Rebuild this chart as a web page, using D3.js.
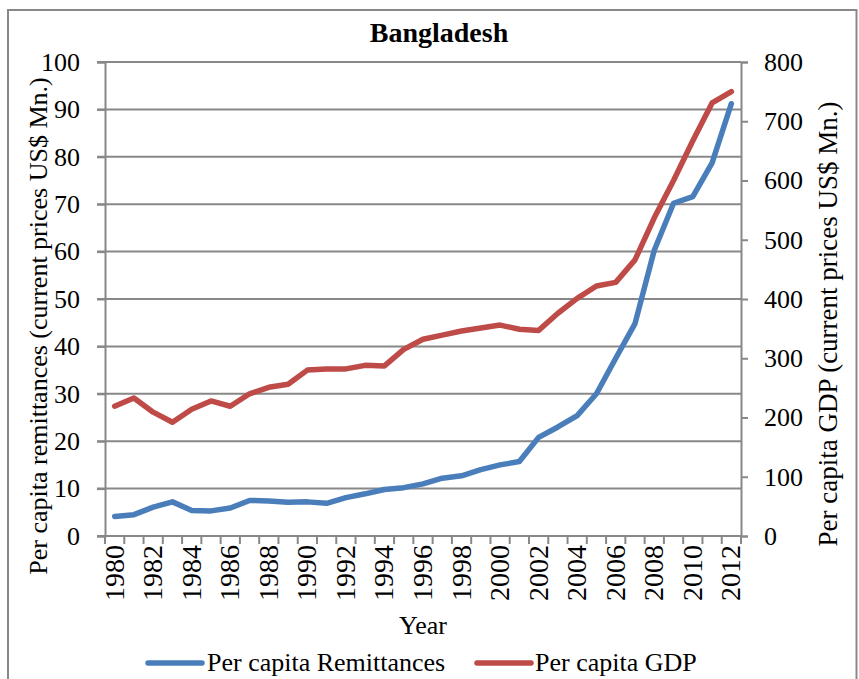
<!DOCTYPE html>
<html>
<head>
<meta charset="utf-8">
<script src="https://cdn.jsdelivr.net/npm/d3@7"></script>
<style>
  html, body { margin: 0; padding: 0; background: #fff; }
  svg { display: block; font-family: "Liberation Serif", "Times New Roman", serif; }
  svg text { font-family: "Liberation Serif", "Times New Roman", serif; }
</style>
</head>
<body>
<svg id="chart" width="859" height="679"></svg>
<script>
// Bangladesh: per capita remittances (left axis) and per capita GDP (right axis)
const years = d3.range(1980, 2013);
const remittances = [4.1, 4.5, 6.1, 7.2, 5.4, 5.3, 5.9, 7.5, 7.4, 7.1, 7.2, 6.9, 8.1, 8.9, 9.8, 10.2,
  11.0, 12.2, 12.7, 14.0, 15.0, 15.7, 20.8, 23.0, 25.4, 30.0, 37.5, 44.8, 60.3, 70.2, 71.6, 78.7, 91.2];
const gdp = [219, 233, 209, 192, 214, 228, 219, 240, 251, 256, 280, 282, 282, 288, 287, 315,
  332, 339, 346, 351, 356, 349, 347, 376, 401, 422, 428, 466, 537, 600, 667, 731, 750];
const leftTicks = [0, 10, 20, 30, 40, 50, 60, 70, 80, 90, 100];
const rightTicks = [0, 100, 200, 300, 400, 500, 600, 700, 800];
const yearLabels = years.filter(y => (y - 1980) % 2 === 0);

const seriesInfo = [
  { name: "Per capita Remittances", color: "#4A7EBB" },
  { name: "Per capita GDP", color: "#BE4B48" }
];

const svg = d3.select("#chart");
const gridColor = "#888888";
const plot = { left: 105, right: 741, top: 62, bottom: 536 };

// outer frame
svg.append("rect")
  .attr("x", 8).attr("y", 10).attr("width", 848.5).attr("height", 700)
  .attr("fill", "none").attr("stroke", gridColor).attr("stroke-width", 2);

const x = d3.scaleBand().domain(years).range([plot.left, plot.right]).padding(0);
const yL = d3.scaleLinear().domain([0, 100]).range([plot.bottom, plot.top]);
const yR = d3.scaleLinear().domain([0, 800]).range([plot.bottom, plot.top]);

// horizontal gridlines on the left scale
svg.append("g").selectAll("line").data(leftTicks).join("line")
  .attr("x1", plot.left - 8).attr("x2", plot.right)
  .attr("y1", d => yL(d)).attr("y2", d => yL(d))
  .attr("stroke", gridColor).attr("stroke-width", 2);

// left axis
const leftAxis = svg.append("g")
  .attr("transform", `translate(${plot.left},0)`)
  .call(d3.axisLeft(yL).tickValues(leftTicks).tickSize(8).tickPadding(17));
leftAxis.attr("font-family", null);
leftAxis.select(".domain").attr("stroke", gridColor).attr("stroke-width", 2);
leftAxis.selectAll(".tick line").attr("stroke", gridColor).attr("stroke-width", 2);
leftAxis.selectAll(".tick text").attr("font-size", 26).attr("fill", "#000");

// right axis
const rightAxis = svg.append("g")
  .attr("transform", `translate(${plot.right},0)`)
  .call(d3.axisRight(yR).tickValues(rightTicks).tickSize(7).tickPadding(16));
rightAxis.attr("font-family", null);
rightAxis.select(".domain").attr("stroke", gridColor).attr("stroke-width", 2);
rightAxis.selectAll(".tick line").attr("stroke", gridColor).attr("stroke-width", 2);
rightAxis.selectAll(".tick text").attr("font-size", 26).attr("fill", "#000");

// bottom category axis: ticks between years
const boundaries = d3.range(years.length + 1).map(i => plot.left + i * x.bandwidth());
svg.append("line")
  .attr("x1", plot.left).attr("x2", plot.right)
  .attr("y1", plot.bottom).attr("y2", plot.bottom)
  .attr("stroke", gridColor).attr("stroke-width", 2);
svg.append("g").selectAll("line").data(boundaries).join("line")
  .attr("x1", d => d).attr("x2", d => d)
  .attr("y1", plot.bottom).attr("y2", plot.bottom + 8)
  .attr("stroke", gridColor).attr("stroke-width", 2);

svg.append("g").selectAll("text").data(yearLabels).join("text")
  .attr("transform", d => `translate(${x(d) + x.bandwidth() / 2 + 9},${plot.bottom + 9}) rotate(-90)`)
  .attr("text-anchor", "end")
  .attr("font-size", 28)
  .attr("fill", "#000")
  .text(d => d);

// lines
const lineL = d3.line().x((d, i) => x(years[i]) + x.bandwidth() / 2).y(d => yL(d));
const lineR = d3.line().x((d, i) => x(years[i]) + x.bandwidth() / 2).y(d => yR(d));

svg.append("path").datum(remittances)
  .attr("d", lineL).attr("fill", "none")
  .attr("stroke", seriesInfo[0].color).attr("stroke-width", 5.5)
  .attr("stroke-linejoin", "round").attr("stroke-linecap", "round");
svg.append("path").datum(gdp)
  .attr("d", lineR).attr("fill", "none")
  .attr("stroke", seriesInfo[1].color).attr("stroke-width", 5.5)
  .attr("stroke-linejoin", "round").attr("stroke-linecap", "round");

// title
svg.append("text").attr("x", 439).attr("y", 42)
  .attr("text-anchor", "middle").attr("font-weight", "bold").attr("font-size", 28)
  .text("Bangladesh");

// axis titles
svg.append("text")
  .attr("transform", "translate(47,326) rotate(-90)")
  .attr("text-anchor", "middle").attr("font-size", 26)
  .text("Per capita remittances (current prices US$ Mn.)");
svg.append("text")
  .attr("transform", "translate(837,324) rotate(-90)")
  .attr("text-anchor", "middle").attr("font-size", 27)
  .text("Per capita GDP (current prices US$ Mn.)");
svg.append("text").attr("x", 423).attr("y", 634)
  .attr("text-anchor", "middle").attr("font-size", 26)
  .text("Year");

// legend
const legendItems = [
  { lx: 148, tx: 207, ...seriesInfo[0] },
  { lx: 477, tx: 535, ...seriesInfo[1] }
];
const legend = svg.append("g");
legend.selectAll("line").data(legendItems).join("line")
  .attr("x1", d => d.lx).attr("x2", d => d.lx + 54)
  .attr("y1", 663).attr("y2", 663)
  .attr("stroke", d => d.color).attr("stroke-width", 5.5)
  .attr("stroke-linecap", "round");
legend.selectAll("text").data(legendItems).join("text")
  .attr("x", d => d.tx).attr("y", 671)
  .attr("font-size", 26)
  .text(d => d.name);
</script>
</body>
</html>
